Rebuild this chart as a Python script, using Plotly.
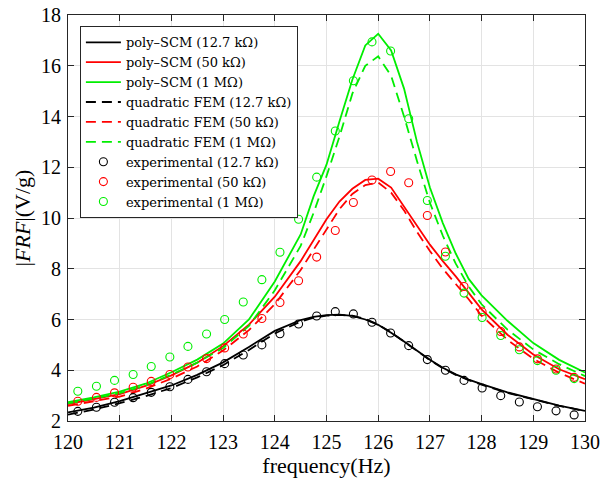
import plotly.graph_objects as go

# ---- model curves (frequency grid, Hz) ----
freq_model = [120, 120.5, 121, 121.5, 122, 122.5, 123, 123.5, 124, 124.5, 124.75, 125,
              125.25, 125.5, 125.75, 126, 126.25, 126.5, 126.75, 127, 127.25, 127.5,
              127.75, 128, 128.5, 129, 129.5, 130]

scm_127k = [2.34, 2.53, 2.78, 3.08, 3.40, 3.82, 4.31, 4.92, 5.55, 5.98, 6.10, 6.17,
            6.19, 6.14, 6.00, 5.79, 5.48, 5.13, 4.77, 4.41, 4.10, 3.84,
            3.63, 3.45, 3.13, 2.86, 2.61, 2.40]
scm_50k = [2.67, 2.85, 3.06, 3.38, 3.80, 4.30, 4.95, 5.80, 6.90, 8.30, 9.10, 9.95,
           10.65, 11.15, 11.50, 11.55, 11.20, 10.45, 9.65, 8.95, 8.30, 7.70,
           7.05, 6.40, 5.40, 4.62, 4.04, 3.65]
scm_1M = [2.74, 2.93, 3.16, 3.47, 3.92, 4.42, 5.05, 6.00, 7.50, 9.35, 10.85, 12.10,
          13.80, 15.45, 16.80, 17.26, 16.60, 15.10, 13.00, 11.20, 9.80, 8.60,
          7.60, 6.95, 5.95, 5.07, 4.41, 3.91]

fem_127k = [2.25, 2.45, 2.70, 2.98, 3.30, 3.72, 4.20, 4.80, 5.45, 5.92, 6.07, 6.15,
            6.18, 6.15, 6.02, 5.80, 5.49, 5.13, 4.76, 4.40, 4.08, 3.82,
            3.61, 3.43, 3.11, 2.84, 2.60, 2.39]
fem_50k = [2.60, 2.77, 2.96, 3.27, 3.67, 4.15, 4.78, 5.58, 6.60, 7.95, 8.75, 9.60,
           10.35, 10.95, 11.30, 11.40, 11.00, 10.30, 9.45, 8.70, 8.00, 7.40,
           6.80, 6.15, 5.20, 4.45, 3.90, 3.47]
fem_1M = [2.70, 2.88, 3.10, 3.40, 3.83, 4.30, 4.88, 5.75, 7.15, 8.90, 10.20, 11.65,
          13.20, 14.90, 16.00, 16.37, 15.60, 14.00, 12.25, 10.60, 9.30, 8.20,
          7.30, 6.60, 5.60, 4.82, 4.24, 3.77]

# ---- experimental points ----
freq_exp = [120.19, 120.55, 120.90, 121.26, 121.61, 121.97, 122.32, 122.68, 123.03, 123.39,
            123.75, 124.10, 124.46, 124.81, 125.17, 125.52, 125.88, 126.24, 126.59, 126.95,
            127.30, 127.66, 128.01, 128.37, 128.73, 129.08, 129.44, 129.79]
exp_127k = [2.38, 2.54, 2.74, 2.92, 3.13, 3.35, 3.64, 3.94, 4.26, 4.60,
            5.00, 5.44, 5.82, 6.14, 6.31, 6.22, 5.89, 5.47, 4.97, 4.42,
            4.00, 3.60, 3.30, 3.00, 2.75, 2.56, 2.40, 2.24]
exp_50k = [2.78, 2.93, 3.11, 3.33, 3.56, 3.83, 4.13, 4.46, 4.88, 5.43,
           6.04, 6.67, 7.53, 8.46, 9.51, 10.61, 11.50, 11.83, 11.39, 10.10,
           8.66, 7.30, 6.30, 5.53, 4.92, 4.45, 4.05, 3.72]
exp_1M = [3.17, 3.37, 3.60, 3.83, 4.15, 4.52, 4.94, 5.43, 6.00, 6.69,
          7.57, 8.65, 9.95, 11.61, 13.43, 15.41, 16.94, 16.58, 13.91, 10.69,
          8.49, 7.04, 6.08, 5.37, 4.81, 4.38, 4.00, 3.67]

labels = ["12.7 kΩ", "50 kΩ", "1 MΩ"]
colors = ["#000000", "#ff0000", "#00ee00"]

fig = go.Figure()
for vals, lab, col in zip([scm_127k, scm_50k, scm_1M], labels, colors):
    fig.add_trace(go.Scatter(x=freq_model, y=vals, mode="lines",
                             name=f"poly–SCM ({lab})",
                             line=dict(color=col, width=1.8)))
for vals, lab, col in zip([fem_127k, fem_50k, fem_1M], labels, colors):
    fig.add_trace(go.Scatter(x=freq_model, y=vals, mode="lines",
                             name=f"quadratic FEM ({lab})",
                             line=dict(color=col, width=1.8, dash="10px,6px")))
for vals, lab, col in zip([exp_127k, exp_50k, exp_1M], labels, colors):
    fig.add_trace(go.Scatter(x=freq_exp, y=vals, mode="markers",
                             name=f"experimental ({lab})",
                             marker=dict(symbol="circle-open", size=8, color=col,
                                         line=dict(width=1.1, color=col))))

serif = "Liberation Serif, DejaVu Serif, serif"
axis_common = dict(showline=True, linecolor="#262626", linewidth=1, mirror="ticks",
                   ticks="inside", ticklen=6, tickcolor="#262626", automargin=False,
                   showgrid=True, gridcolor="#e3e3e3", gridwidth=1, zeroline=False,
                   tickfont=dict(family=serif, size=20, color="#000"))

fig.update_layout(
    width=601, height=480,
    margin=dict(l=68, r=16, t=15, b=59),
    paper_bgcolor="white", plot_bgcolor="white",
    font=dict(family=serif, color="#000"),
    xaxis=dict(range=[120, 130], dtick=1, ticklabelstandoff=3,
               title=dict(text="frequency(Hz)", font=dict(family=serif, size=22),
                          standoff=4),
               **axis_common),
    yaxis=dict(range=[2, 18], dtick=2, ticklabelstandoff=2,
               title=dict(text="|<i>FRF</i>|(V/g)", font=dict(family=serif, size=22),
                          standoff=4),
               **axis_common),
    legend=dict(x=0.023, y=0.972, xanchor="left", yanchor="top",
                bgcolor="white", bordercolor="#262626", borderwidth=1,
                font=dict(family="DejaVu Serif, serif", size=13, color="#000"),
                itemwidth=35, tracegroupgap=0),
    showlegend=True,
)

# remove the page's default 8px body margin so the 601x480 figure fills the window
fig.write_html("out.html",
               config={"displayModeBar": False},
               post_script="document.body.style.margin='0';document.body.style.overflow='hidden';")
